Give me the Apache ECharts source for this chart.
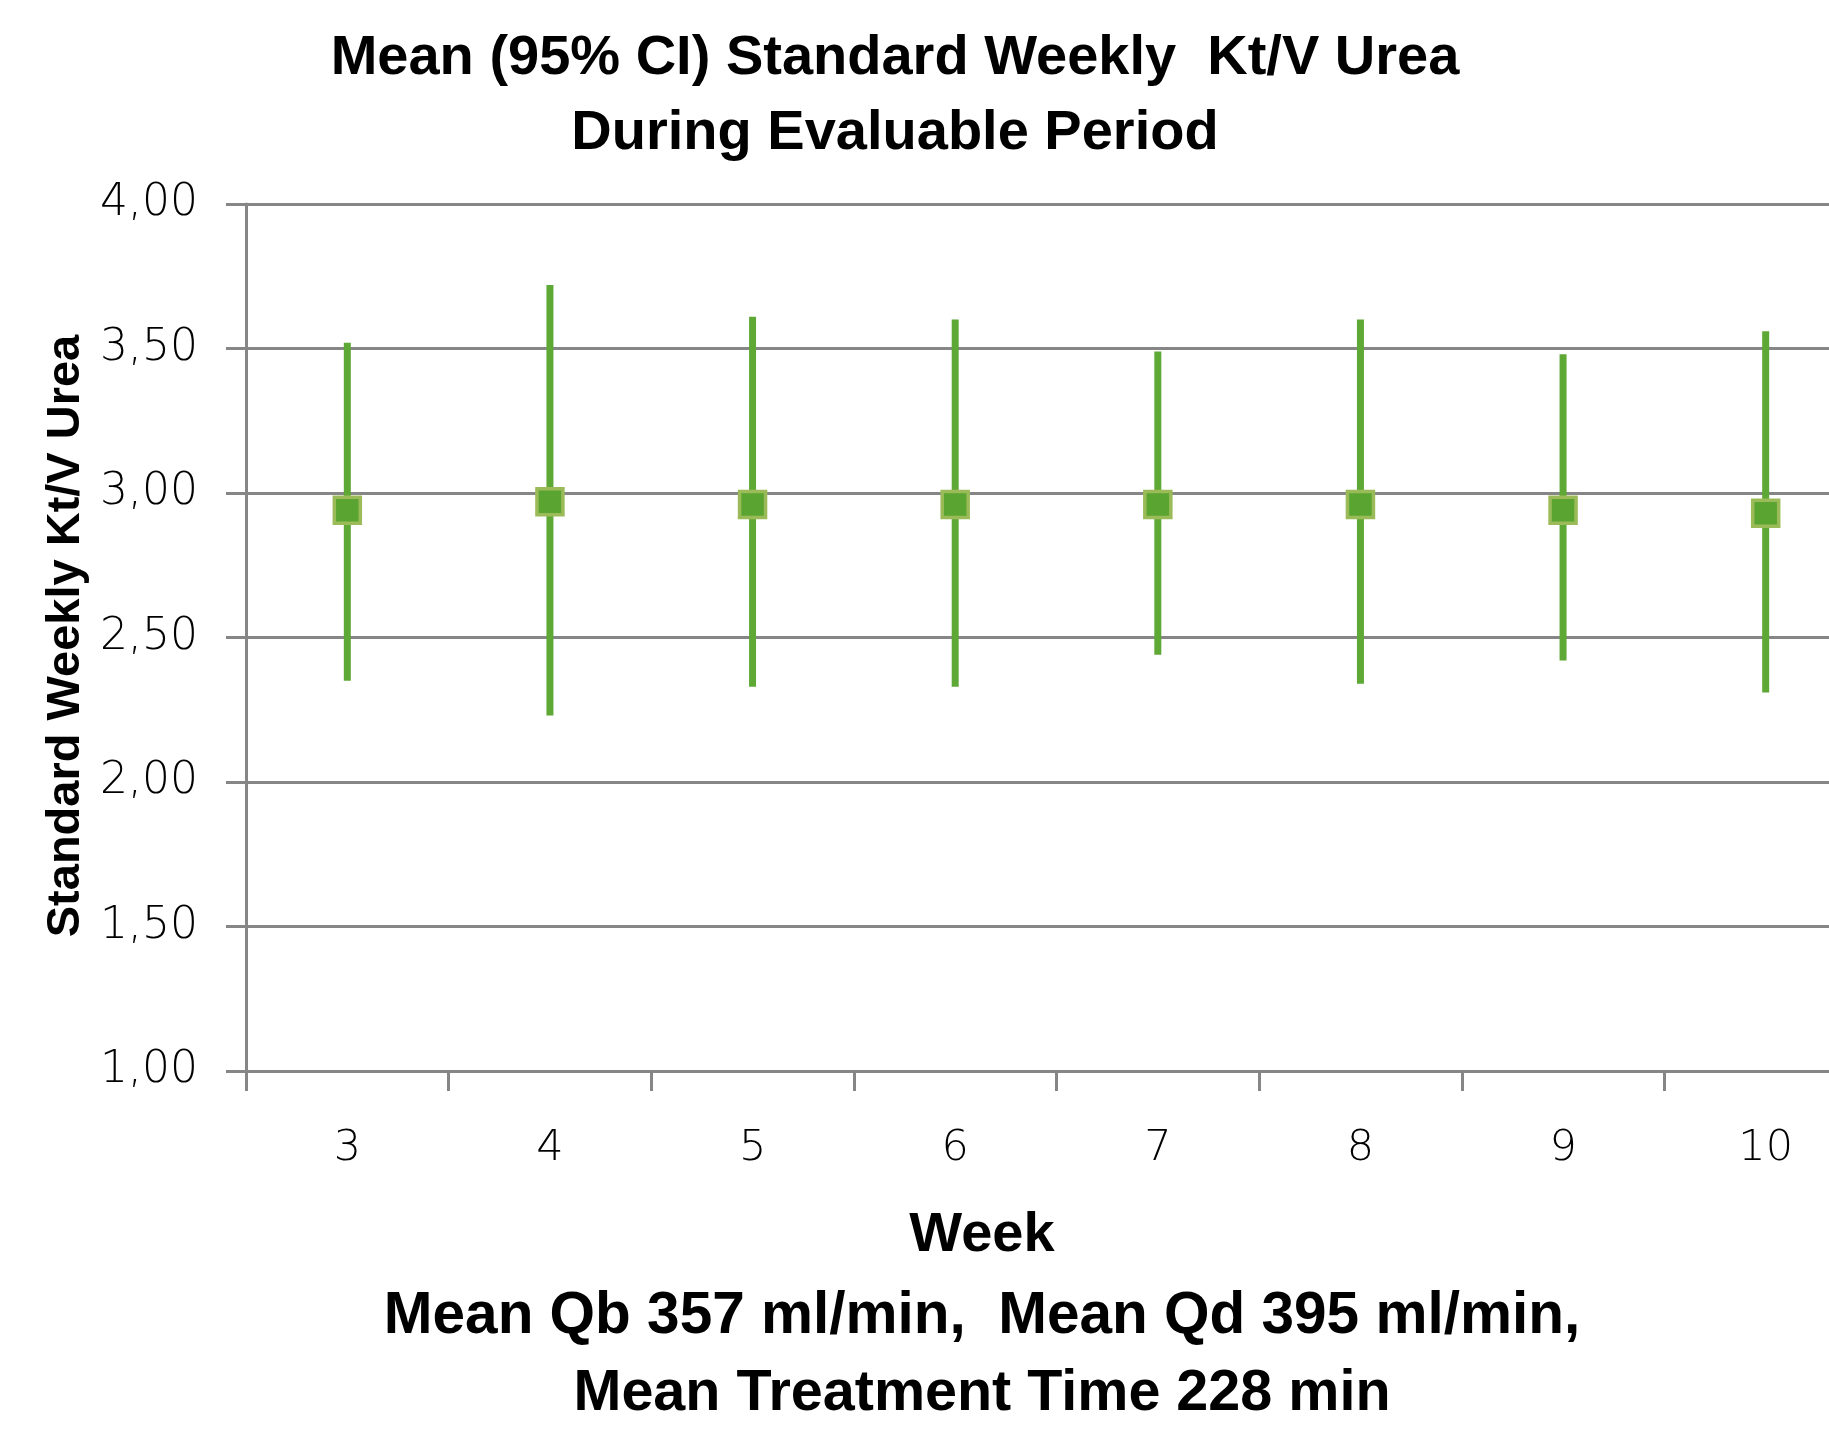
<!DOCTYPE html>
<html>
<head>
<meta charset="utf-8">
<script src="https://cdn.jsdelivr.net/npm/echarts@6/dist/echarts.min.js"></script>
<style>
html,body{margin:0;padding:0;background:#fff;}
#chart{width:1829px;height:1432px;}
</style>
</head>
<body>
<div id="chart"></div>
<script>
// Data
const weeks = ['3', '4', '5', '6', '7', '8', '9', '10'];
const meanKtV = [2.94, 2.97, 2.96, 2.96, 2.96, 2.96, 2.94, 2.93];
const ciLow = [2.35, 2.23, 2.33, 2.33, 2.44, 2.34, 2.42, 2.31];
const ciHigh = [3.52, 3.72, 3.61, 3.60, 3.49, 3.60, 3.48, 3.56];

const titleLines = ['Mean (95% CI) Standard Weekly  Kt/V Urea', 'During Evaluable Period'];
const xAxisTitleLines = ['Week', 'Mean Qb 357 ml/min,  Mean Qd 395 ml/min,', 'Mean Treatment Time 228 min'];
const yAxisTitle = 'Standard Weekly Kt/V Urea';

const gray = '#868686';
const boldFont = '"Liberation Sans", Arial, sans-serif';
const tickFont = '"DejaVu Sans", sans-serif';
const bottomSizes = [56, 58.5, 57.5];

const chart = echarts.init(document.getElementById('chart'), null, {renderer: 'canvas'});

const graphics = [];
titleLines.forEach((t, i) => {
  graphics.push({type: 'text', x: 895, y: 59 + i * 75,
    style: {text: t, x: 0, y: 0, align: 'center', verticalAlign: 'middle',
      font: 'bold 56px ' + boldFont, fill: '#000'}});
});
xAxisTitleLines.forEach((t, i) => {
  graphics.push({type: 'text', x: 982, y: i === 0 ? 1236 : 1240 + i * 77,
    style: {text: t, x: 0, y: 0, align: 'center', verticalAlign: 'middle',
      font: 'bold ' + bottomSizes[i] + 'px ' + boldFont, fill: '#000'}});
});
graphics.push({type: 'text', x: 66, y: 636, rotation: Math.PI / 2,
  style: {text: yAxisTitle, x: 0, y: 0, align: 'center', verticalAlign: 'middle',
    font: 'bold 47px ' + boldFont, fill: '#000'}});

const option = {
  backgroundColor: '#fff',
  animation: false,
  grid: {left: 246, top: 204, width: 1621, bottom: 361, containLabel: false, outerBoundsMode: 'none'},
  xAxis: {
    type: 'category',
    data: weeks,
    boundaryGap: true,
    axisLine: {show: true, lineStyle: {color: gray, width: 3}},
    axisTick: {show: true, length: 20, alignWithLabel: false, lineStyle: {color: gray, width: 3}},
    axisLabel: {show: true, margin: 56, fontSize: 43, fontFamily: tickFont, fontWeight: 300, color: '#000'},
    splitLine: {show: false}
  },
  yAxis: {
    type: 'value',
    min: 1, max: 4, interval: 0.5,
    axisLine: {show: true, lineStyle: {color: gray, width: 3}},
    axisTick: {show: true, length: 20, lineStyle: {color: gray, width: 3}},
    axisLabel: {show: true, margin: 48, fontSize: 44, fontFamily: tickFont, fontWeight: 300, color: '#000',
      formatter: v => v.toFixed(2).replace('.', ',')},
    splitLine: {show: true, lineStyle: {color: gray, width: 3}}
  },
  graphic: graphics,
  series: [
    {
      type: 'custom',
      name: '95% CI',
      data: weeks.map((w, i) => [i, ciLow[i], ciHigh[i]]),
      encode: {x: 0, y: [1, 2]},
      renderItem: function (params, api) {
        const idx = api.value(0);
        const lo = api.coord([idx, api.value(1)]);
        const hi = api.coord([idx, api.value(2)]);
        return {
          type: 'line',
          shape: {x1: lo[0], y1: lo[1], x2: hi[0], y2: hi[1]},
          style: {stroke: '#5EA836', lineWidth: 7}
        };
      },
      z: 2
    },
    {
      type: 'scatter',
      name: 'Mean',
      data: meanKtV,
      symbol: 'rect',
      symbolSize: 26,
      itemStyle: {color: '#5AA532', borderColor: '#9BBB59', borderWidth: 3.5, opacity: 1},
      z: 3
    }
  ]
};
chart.setOption(option);
</script>
</body>
</html>
